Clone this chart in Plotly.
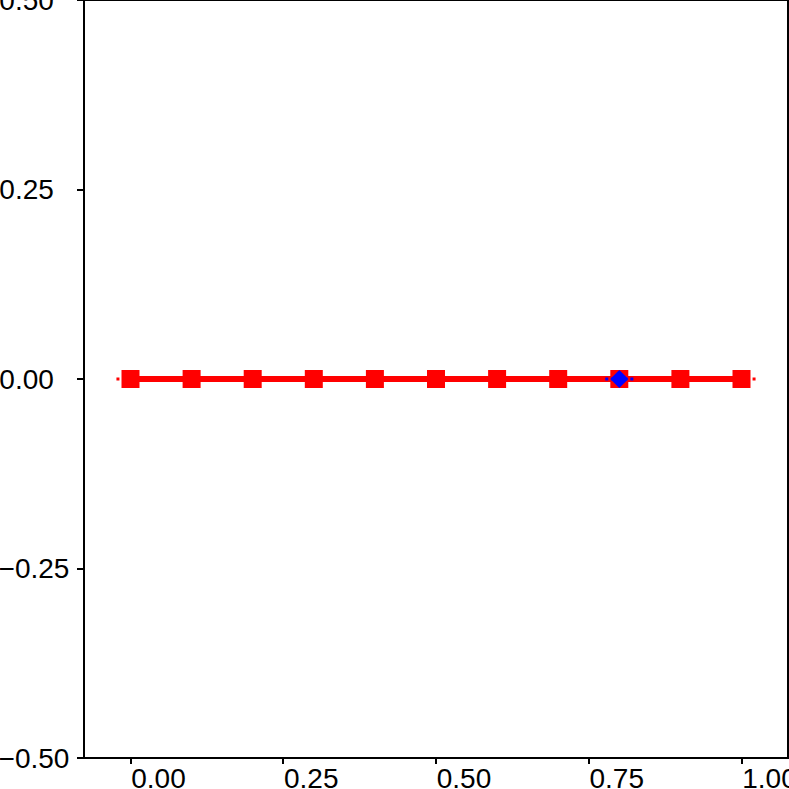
import plotly.graph_objects as go

# Data
x_vals = [0.0, 0.1, 0.2, 0.3, 0.4, 0.5, 0.6, 0.7, 0.8, 0.9, 1.0]
y_vals = [0.0] * 11
diamond_x = [0.8]
diamond_y = [0.0]
spread = 0.023
x_ticks = [0.0, 0.25, 0.5, 0.75, 1.0]
x_tick_labels = ["0.00", "0.25", "0.50", "0.75", "1.00"]
y_ticks = [-0.5, -0.25, 0.0, 0.25, 0.5]
y_tick_labels = ["\u22120.50", "\u22120.25", "0.00\u2007", "0.25\u2007", "0.50\u2007"]

lo, hi = min(x_vals), max(x_vals)
mid = (lo + hi) / 2
red_dot_x = [lo - spread, mid, None, hi + spread, mid]
red_dot_y = [y_vals[0], y_vals[0], None, y_vals[-1], y_vals[-1]]
d = diamond_x[0]
blue_dot_x = [d - spread, d, None, d + spread, d]
blue_dot_y = [diamond_y[0]] * 2 + [None] + [diamond_y[0]] * 2

fig = go.Figure()
fig.add_trace(go.Scatter(x=red_dot_x, y=red_dot_y, mode="lines",
                         line=dict(color="red", width=3, dash="3px,3px"),
                         connectgaps=False, hoverinfo="skip"))
fig.add_trace(go.Scatter(x=x_vals, y=y_vals, mode="lines+markers",
                         line=dict(color="red", width=6),
                         marker=dict(symbol="square", size=18, color="red")))
fig.add_trace(go.Scatter(x=blue_dot_x, y=blue_dot_y, mode="lines",
                         line=dict(color="blue", width=3, dash="3px,3px"),
                         connectgaps=False, hoverinfo="skip"))
fig.add_trace(go.Scatter(x=diamond_x, y=diamond_y, mode="markers",
                         marker=dict(symbol="diamond", size=14, color="blue")))

font = dict(family="Liberation Sans, Arial, sans-serif", size=28, color="black")
axis_common = dict(showline=False, showgrid=False, zeroline=False, ticks="outside",
                   tickwidth=1.5, tickcolor="black", tickfont=font,
                   automargin=False, ticklabeloverflow="allow")

fig.update_xaxes(range=[-0.0761, 1.0761], tickvals=x_ticks, ticktext=x_tick_labels,
                 ticklen=5, ticklabelshift=28, ticklabelstandoff=-10, **axis_common)
fig.update_yaxes(range=[-0.5, 0.5], tickvals=y_ticks, ticktext=y_tick_labels,
                 ticklen=6, ticklabelstandoff=2, **axis_common)

fig.add_shape(type="rect", xref="paper", yref="paper", x0=0, x1=1, y0=0, y1=1,
              line=dict(color="black", width=2), layer="above")

fig.update_layout(width=789, height=789, showlegend=False,
                  plot_bgcolor="white", paper_bgcolor="white",
                  margin=dict(l=84, r=1, t=0, b=31, autoexpand=False))

fig.write_html("out.html", config={"displayModeBar": False},
               post_script="document.body.style.margin='0';")
